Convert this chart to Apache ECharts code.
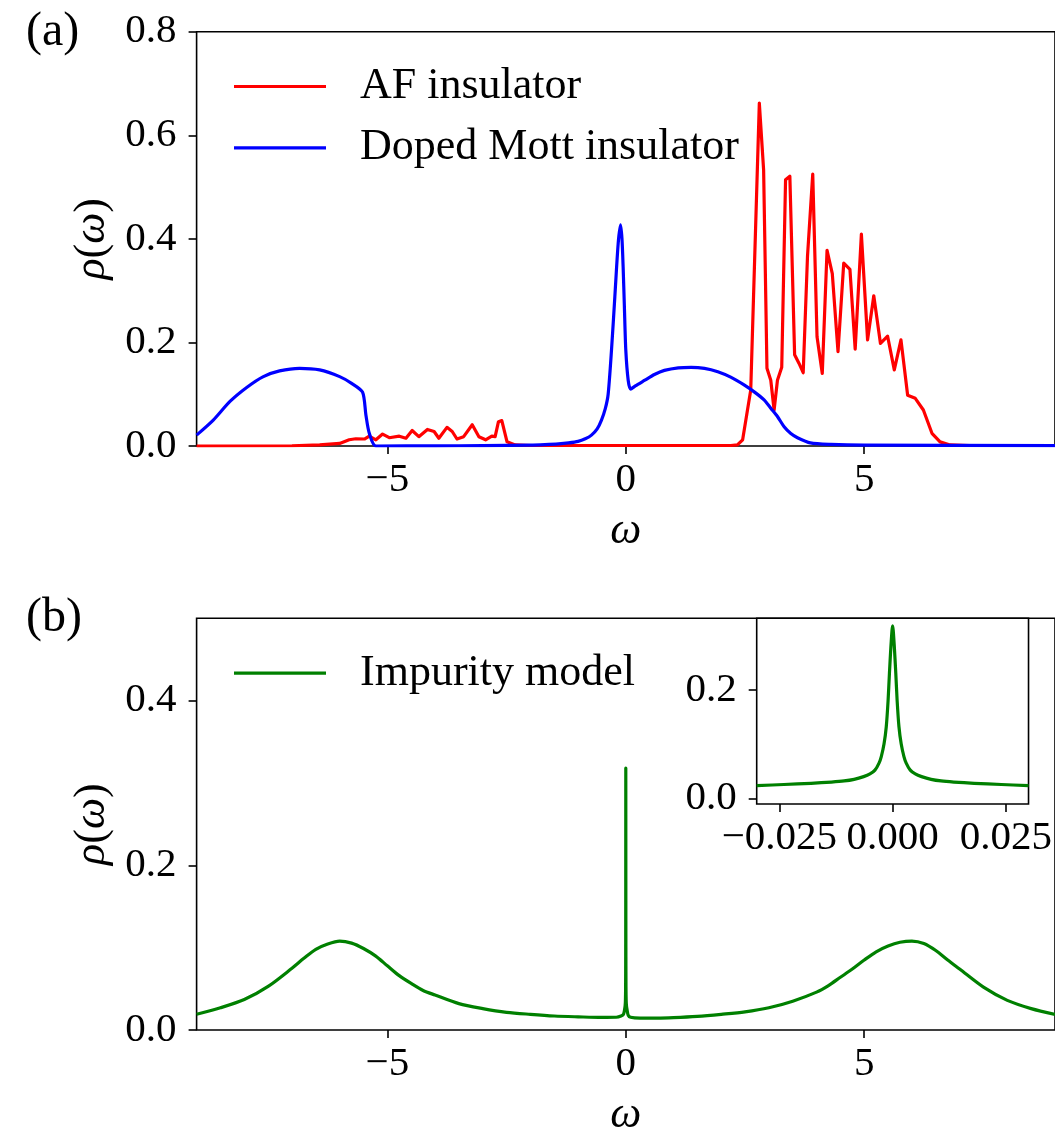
<!DOCTYPE html>
<html>
<head>
<meta charset="utf-8">
<title>Spectral functions</title>
<script src="https://cdn.jsdelivr.net/npm/echarts@6/dist/echarts.min.js"></script>
<style>
  html, body { margin: 0; padding: 0; background: #fff; }
  #chart { width: 1055px; height: 1138px; }
</style>
</head>
<body>
<div id="chart"></div>
<script>
// ---- data: spectral functions rho(omega) ----
// (a) AF insulator
const afOmega = [-9, -7, -6.42, -6.0, -5.8, -5.66, -5.48, -5.38, -5.24, -5.1, -4.96, -4.75, -4.61, -4.48, -4.34,
  -4.16, -4.02, -3.92, -3.75, -3.64, -3.54, -3.40, -3.22, -3.08, -2.94, -2.81, -2.74, -2.67, -2.60, -2.49,
  -2.32, -2.0, 0, 2.2, 2.34, 2.45, 2.62, 2.80, 2.89, 2.96, 3.04, 3.11, 3.18, 3.27, 3.35, 3.44, 3.54, 3.63,
  3.72, 3.81, 3.92, 4.01, 4.12, 4.22, 4.33, 4.45, 4.57, 4.70, 4.81, 4.94, 5.07, 5.20, 5.34, 5.49, 5.63,
  5.77, 5.91, 6.07, 6.24, 6.42, 6.59, 6.80, 7.2, 9];
const afRho = [0, 0.0005, 0.002, 0.005, 0.012, 0.014, 0.0135, 0.019, 0.012, 0.023, 0.016, 0.019, 0.015, 0.030, 0.018,
  0.032, 0.028, 0.015, 0.036, 0.028, 0.0135, 0.018, 0.041, 0.018, 0.012, 0.019, 0.018, 0.047, 0.049, 0.008,
  0.002, 0.001, 0.001, 0.001, 0.002, 0.012, 0.108, 0.662, 0.533, 0.150, 0.127, 0.0695, 0.127, 0.152, 0.514, 0.521, 0.176, 0.160,
  0.1415, 0.366, 0.525, 0.211, 0.140, 0.378, 0.333, 0.182, 0.353, 0.341, 0.187, 0.409, 0.205, 0.290, 0.198, 0.212, 0.147,
  0.205, 0.098, 0.092, 0.0695, 0.0245, 0.008, 0.002, 0.001, 0.001];

// (a) doped Mott insulator
const mottOmega = [-9, -8.65, -8.3, -7.95, -7.6, -7.26, -6.84, -6.42, -6.0, -5.75, -5.52, -5.45, -5.38, -5.24,
  -4, -3, -2, -1.7, -1.41, -1.2, -1.0, -0.85, -0.72, -0.6, -0.51, -0.43, -0.37, -0.30, -0.23, -0.16, -0.11,
  -0.08, -0.056, -0.03, 0, 0.05, 0.10, 0.2, 0.4, 0.6, 0.81, 1.1, 1.37, 1.65, 1.93, 2.2, 2.48, 2.7, 2.9,
  3.04, 3.18, 3.32, 3.46, 3.6, 3.87, 4.3, 5, 9];
const mottRho = [0.021, 0.05, 0.086, 0.113, 0.134, 0.145, 0.150, 0.147, 0.134, 0.121, 0.104, 0.06, 0.025, 0.0,
  0.0003, 0.0008, 0.0015, 0.0025, 0.004, 0.006, 0.009, 0.014, 0.021, 0.033, 0.05, 0.072, 0.10, 0.185, 0.288, 0.391, 0.427,
  0.40, 0.346, 0.27, 0.185, 0.127, 0.110, 0.116, 0.127, 0.138, 0.146, 0.151, 0.152, 0.150, 0.1435, 0.133, 0.118, 0.104, 0.089,
  0.073, 0.057, 0.037, 0.024, 0.016, 0.006, 0.003, 0.0015, 0.0008];

// (b) impurity model, broad part
const impOmega = [-9, -8.5, -8.0, -7.5, -7.0, -6.75, -6.5, -6.25, -6.0, -5.75, -5.5, -5.25, -5.0, -4.75, -4.5,
  -4.25, -4.0, -3.5, -3.0, -2.5, -2.0, -1.5, -1.0, -0.5, -0.2, -0.1, -0.05,
  0.05, 0.1, 0.3, 0.66, 1.0, 1.5, 2.0, 2.5, 3.0, 3.5, 4.0, 4.25, 4.5, 4.75, 5.0, 5.25,
  5.5, 5.75, 6.0, 6.25, 6.5, 6.75, 7.0, 7.5, 8.0, 8.5, 9.0];
const impRho = [0.0192, 0.027, 0.037, 0.053, 0.075, 0.087, 0.098, 0.1045, 0.108, 0.1055, 0.099, 0.090, 0.078, 0.066, 0.0565,
  0.048, 0.0425, 0.032, 0.026, 0.0215, 0.019, 0.017, 0.016, 0.0153, 0.0155, 0.017, 0.019,
  0.018, 0.0155, 0.0145, 0.0145, 0.015, 0.0165, 0.019, 0.022, 0.027, 0.035, 0.046, 0.054, 0.064, 0.074, 0.085, 0.095,
  0.102, 0.1065, 0.108, 0.105, 0.0965, 0.085, 0.074, 0.052, 0.036, 0.026, 0.019];

// (b) impurity model, quasiparticle peak around omega = 0
const peakOmega = [-0.03, -0.024, -0.018, -0.0135, -0.0107, -0.0085, -0.0064, -0.005, -0.0039, -0.003, -0.0025,
  -0.0019, -0.0014, -0.001, -0.0007, -0.0003, 0, 0.0003, 0.0007, 0.001, 0.0014, 0.0019, 0.0025, 0.003, 0.0039,
  0.005, 0.0064, 0.0085, 0.0107, 0.0135, 0.018, 0.024, 0.03];
const peakRho = [0.0233, 0.0255, 0.0277, 0.030, 0.032, 0.035, 0.040, 0.045, 0.052, 0.065, 0.077,
  0.10, 0.132, 0.18, 0.231, 0.29, 0.318, 0.29, 0.231, 0.18, 0.132, 0.10, 0.077, 0.065, 0.052,
  0.045, 0.040, 0.035, 0.032, 0.030, 0.0277, 0.0255, 0.0233];

// tick positions
const mainXTicks = [-5, 0, 5];
const yTicksA = [0, 0.2, 0.4, 0.6, 0.8];
const yTicksB = [0, 0.2, 0.4];
const insetXTicks = [-0.025, 0, 0.025];
const insetYTicks = [0, 0.2];

// ---- helpers ----
const FONT = 'Liberation Serif';
const LINE_W = 3.2;
const pairs = (xs, ys) => xs.map((x, i) => [x, ys[i]]);
const minus = s => String(s).replace('-', '\u2212');

const impData = pairs(impOmega, impRho).concat(pairs(peakOmega, peakRho)).sort((a, b) => a[0] - b[0]);

function xAxisCfg(grid, min, max, ticks, fmt, withName) {
  return {
    type: 'value', gridIndex: grid, min: min, max: max,
    name: withName ? '\u03c9' : '', nameLocation: 'middle', nameGap: 63,
    nameTextStyle: { fontFamily: FONT, fontStyle: 'italic', fontSize: 44, color: '#000' },
    axisLine: { show: false, onZero: false },
    axisTick: { show: true, customValues: ticks, length: 8, inside: false, lineStyle: { color: '#000', width: 1.6 } },
    axisLabel: { customValues: ticks, formatter: fmt, margin: 14, fontFamily: FONT, fontSize: 41, color: '#000' },
    splitLine: { show: false }
  };
}
function yAxisCfg(grid, min, max, ticks, withName) {
  return {
    type: 'value', gridIndex: grid, min: min, max: max,
    name: withName ? '{i|\u03c1}{r|(}{i|\u03c9}{r|)}' : '', nameLocation: 'middle', nameGap: 70, nameRotate: 90,
    nameTextStyle: {
      fontFamily: FONT, fontSize: 44, color: '#000',
      rich: {
        i: { fontFamily: FONT, fontStyle: 'italic', fontSize: 44, color: '#000' },
        r: { fontFamily: FONT, fontSize: 44, color: '#000' }
      }
    },
    axisLine: { show: false, onZero: false },
    axisTick: { show: true, customValues: ticks, length: 8, inside: false, lineStyle: { color: '#000', width: 1.6 } },
    axisLabel: { customValues: ticks, formatter: v => v.toFixed(1), margin: 20, fontFamily: FONT, fontSize: 41, color: '#000' },
    splitLine: { show: false }
  };
}
function lineSeries(name, xi, yi, data, color, smooth) {
  return {
    type: 'line', name: name, xAxisIndex: xi, yAxisIndex: yi, data: data,
    symbol: 'none', showSymbol: false, smooth: smooth,
    lineStyle: { color: color, width: LINE_W, join: 'round', cap: 'butt' }, itemStyle: { color: color },
    emphasis: { disabled: true }, animation: false
  };
}
const gridBox = { show: true, borderColor: '#000', borderWidth: 1.6, backgroundColor: '#fff' };
const legendText = { fontFamily: FONT, fontSize: 44, color: '#000', padding: [0, 0, 0, 29] };
const panelLabel = { fontFamily: FONT, fontSize: 48, fontWeight: 'normal', color: '#000' };

const option = {
  animation: false,
  backgroundColor: '#fff',
  title: [
    { text: '(a)', left: 26, top: 8, padding: 0, textStyle: panelLabel },
    { text: '(b)', left: 26, top: 594, padding: 0, textStyle: panelLabel }
  ],
  legend: [
    { orient: 'vertical', left: 234, top: 64.5, padding: 0, itemWidth: 92, itemHeight: LINE_W, itemGap: 17.4,
      icon: 'rect', selectedMode: false, data: ['AF insulator', 'Doped Mott insulator'], textStyle: legendText },
    { orient: 'vertical', left: 234, top: 651.1, padding: 0, itemWidth: 92, itemHeight: LINE_W,
      icon: 'rect', selectedMode: false, data: ['Impurity model'], textStyle: legendText }
  ],
  grid: [
    Object.assign({ left: 196.6, top: 31.7, width: 862.2, height: 414.3 }, gridBox),
    Object.assign({ left: 196.6, top: 618.3, width: 862.2, height: 414.4 }, gridBox),
    Object.assign({ left: 756.7, top: 618.3, width: 280.6, height: 185.7, z: 5 }, gridBox)
  ],
  xAxis: [
    xAxisCfg(0, -9, 9, mainXTicks, v => minus(v), true),
    xAxisCfg(1, -9, 9, mainXTicks, v => minus(v), true),
    Object.assign(xAxisCfg(2, -0.03, 0.03, insetXTicks, v => minus(v.toFixed(3)), false), { z: 5 })
  ],
  yAxis: [
    yAxisCfg(0, 0, 0.8, yTicksA, true),
    yAxisCfg(1, 0, 0.5, yTicksB, true),
    Object.assign(yAxisCfg(2, -0.0105, 0.332, insetYTicks, false), { z: 5 })
  ],
  series: [
    lineSeries('AF insulator', 0, 0, pairs(afOmega, afRho), '#ff0000', false),
    lineSeries('Doped Mott insulator', 0, 0, pairs(mottOmega, mottRho), '#0000ff', 0.25),
    lineSeries('Impurity model', 1, 1, impData, '#008000', 0.3),
    Object.assign(lineSeries('Impurity model (zoom)', 2, 2, pairs(peakOmega, peakRho), '#008000', 0.3), { z: 6 })
  ]
};

const chart = echarts.init(document.getElementById('chart'), null, { renderer: 'canvas' });
chart.setOption(option);
</script>
</body>
</html>
